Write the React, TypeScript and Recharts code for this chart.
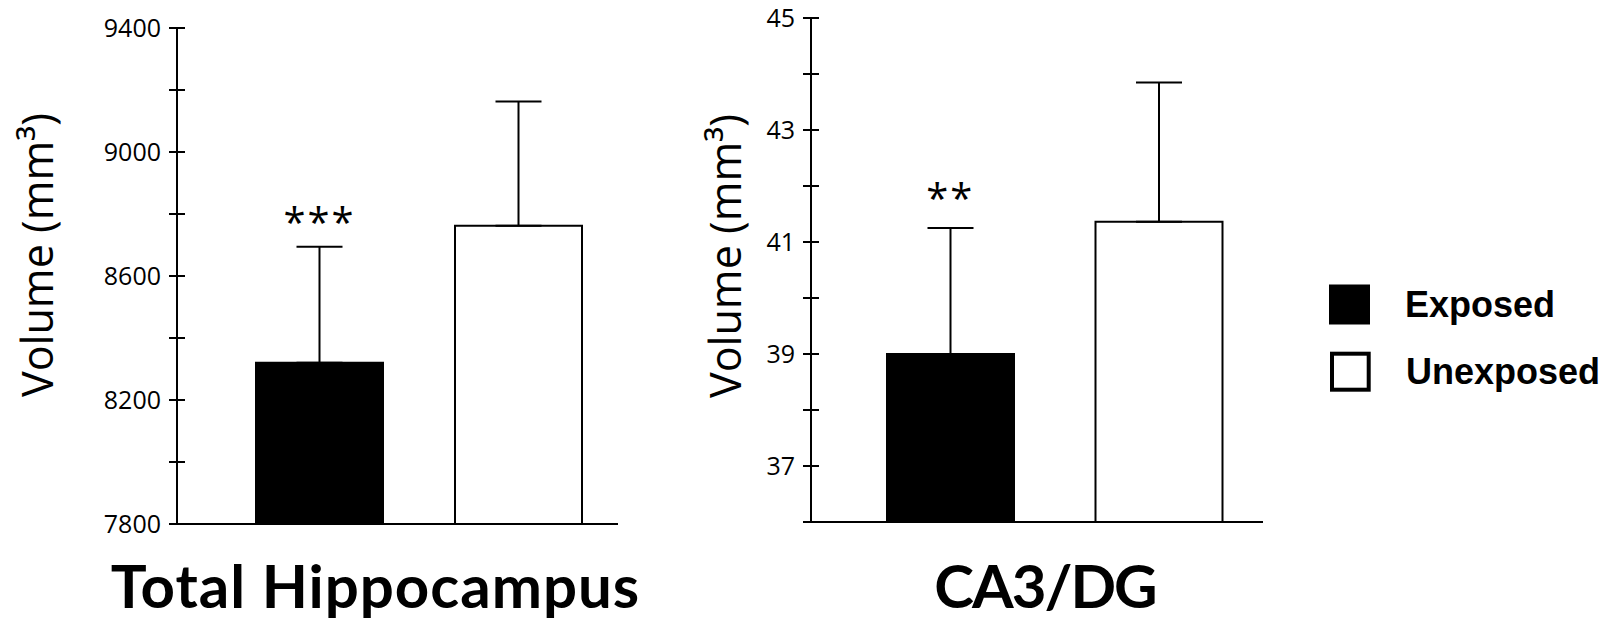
import React from 'react';
import { BarChart, Bar, XAxis, YAxis, Cell, ErrorBar, ReferenceDot } from 'recharts';

// ---- data ----
const groups = ['Exposed', 'Unexposed'];
const barColors = ['#000000', '#ffffff'];

const totalTitle = 'Total Hippocampus';
const totalMeans = [8320, 8762];
const totalErrors = [374, 401];
const totalSig = ['***', ''];
const totalTicks = [7800, 8000, 8200, 8400, 8600, 8800, 9000, 9200, 9400];
const totalLabeledTicks = [7800, 8200, 8600, 9000, 9400];

const ca3Title = 'CA3/DG';
const ca3Means = [39.0, 41.36];
const ca3Errors = [2.25, 2.49];
const ca3Sig = ['**', ''];
const ca3Ticks = [36, 37, 38, 39, 40, 41, 42, 43, 44, 45];
const ca3LabeledTicks = [37, 39, 41, 43, 45];

const yLabel = 'Volume (mm³)';

const TICK_SIZE = 8;
const TICK_MARGIN = 8;

const buildData = (means: number[], errors: number[], sig: string[]) =>
  groups.map((g, i) => ({ group: g, value: means[i], err: [0, errors[i]], sig: sig[i] }));

const makeTick = (labeled: number[]) => (props: any) => {
  const { x, y, payload } = props;
  const axisX = x + TICK_SIZE + TICK_MARGIN;
  return (
    <g>
      <line x1={axisX - 8} x2={axisX + 8} y1={y} y2={y} stroke="#000" strokeWidth={2} />
      {labeled.includes(payload.value) ? (
        <text x={x} y={y} dy="0.36em" textAnchor="end" fontFamily="Open Sans" fontSize={25} fill="#000">
          {payload.value}
        </text>
      ) : null}
    </g>
  );
};

type PanelProps = {
  title: string;
  titleSpacing: number;
  means: number[];
  errors: number[];
  sig: string[];
  ticks: number[];
  labeled: number[];
  width: number;
  margin: { top: number; right: number; bottom: number; left: number };
  yAxisWidth: number;
  xAxisHeight: number;
  padLeft: number;
  titleDx: number;
  yLabelX: number;
  yLabelY: number;
  sigOffset: number;
};

function Panel(p: PanelProps) {
  const data = buildData(p.means, p.errors, p.sig);
  return (
    <BarChart width={p.width} height={621} data={data} margin={p.margin}>
      <XAxis
        dataKey="group"
        type="category"
        tick={false}
        tickLine={false}
        height={p.xAxisHeight}
        padding={{ left: p.padLeft, right: 0 }}
        axisLine={{ stroke: '#000', strokeWidth: 2 }}
        label={(lp: any) => {
          const vb = lp.viewBox || { x: 0, width: 0 };
          return (
            <text
              x={vb.x + vb.width / 2 + p.titleDx}
              y={608}
              textAnchor="middle"
              fontFamily="Lato"
              fontWeight="bold"
              fontSize={60}
              letterSpacing={p.titleSpacing}
              fill="#000"
            >
              {p.title}
            </text>
          );
        }}
      />
      <YAxis
        type="number"
        domain={[p.ticks[0], p.ticks[p.ticks.length - 1]]}
        ticks={p.ticks}
        interval={0}
        width={p.yAxisWidth}
        tickSize={TICK_SIZE}
        tickMargin={TICK_MARGIN}
        tickLine={false}
        tick={makeTick(p.labeled)}
        axisLine={{ stroke: '#000', strokeWidth: 2 }}
        label={() => {
          const cx = p.yLabelX;
          const cy = p.yLabelY;
          return (
            <text
              x={cx}
              y={cy}
              transform={`rotate(-90 ${cx} ${cy})`}
              textAnchor="middle"
              fontFamily="Open Sans"
              fontSize={43}
              fill="#000"
            >
              {yLabel}
            </text>
          );
        }}
      />
      <Bar dataKey="value" barSize={127} stroke="#000" strokeWidth={2} isAnimationActive={false}>
        {data.map((d, i) => (
          <Cell key={d.group} fill={barColors[i]} />
        ))}
        <ErrorBar dataKey="err" direction="y" width={23} stroke="#000" strokeWidth={2} isAnimationActive={false} />
      </Bar>
      {data.map((d) =>
        d.sig ? (
          <ReferenceDot
            key={'sig-' + d.group}
            x={d.group}
            y={d.value + d.err[1]}
            r={0}
            fill="none"
            stroke="none"
            ifOverflow="visible"
            label={(lp: any) => (
              <text
                x={lp.viewBox.x}
                y={lp.viewBox.y - p.sigOffset}
                textAnchor="middle"
                fontFamily="Open Sans"
                fontSize={40}
                letterSpacing={2}
                fill="#000"
              >
                {d.sig}
              </text>
            )}
          />
        ) : null
      )}
    </BarChart>
  );
}

export default function App() {
  return (
    <div style={{ position: 'absolute', left: 0, top: 0, width: 1612, height: 621, background: '#fff', overflow: 'hidden' }}>
      <div style={{ position: 'absolute', left: 0, top: 0 }}>
        <Panel
          title={totalTitle}
          titleSpacing={1}
          means={totalMeans}
          errors={totalErrors}
          sig={totalSig}
          ticks={totalTicks}
          labeled={totalLabeledTicks}
          width={640}
          margin={{ top: 28, right: 22, bottom: 0, left: 0 }}
          yAxisWidth={177}
          xAxisHeight={97}
          padLeft={43}
          titleDx={-22}
          yLabelX={53}
          yLabelY={255}
          sigOffset={10}
        />
      </div>
      <div style={{ position: 'absolute', left: 640, top: 0 }}>
        <Panel
          title={ca3Title}
          titleSpacing={-2}
          means={ca3Means}
          errors={ca3Errors}
          sig={ca3Sig}
          ticks={ca3Ticks}
          labeled={ca3LabeledTicks}
          width={660}
          margin={{ top: 18, right: 37, bottom: 0, left: 0 }}
          yAxisWidth={171}
          xAxisHeight={99}
          padLeft={35}
          titleDx={8}
          yLabelX={101}
          yLabelY={256}
          sigOffset={15}
        />
      </div>
      <svg width={1612} height={621} style={{ position: 'absolute', left: 0, top: 0, pointerEvents: 'none' }}>
        {groups.map((g, i) =>
          i === 0 ? (
            <rect key={'sw' + g} x={1329} y={284.5} width={41} height={40} fill={barColors[i]} />
          ) : (
            <rect key={'sw' + g} x={1332} y={353.7} width={36.7} height={36} fill={barColors[i]} stroke="#000" strokeWidth={4} />
          )
        )}
        {groups.map((g, i) => (
          <text
            key={'lt' + g}
            x={i === 0 ? 1405 : 1406}
            y={i === 0 ? 316.7 : 384.3}
            fontFamily="Liberation Sans"
            fontWeight="bold"
            fontSize={36}
            fill="#000"
          >
            {g}
          </text>
        ))}
      </svg>
    </div>
  );
}
